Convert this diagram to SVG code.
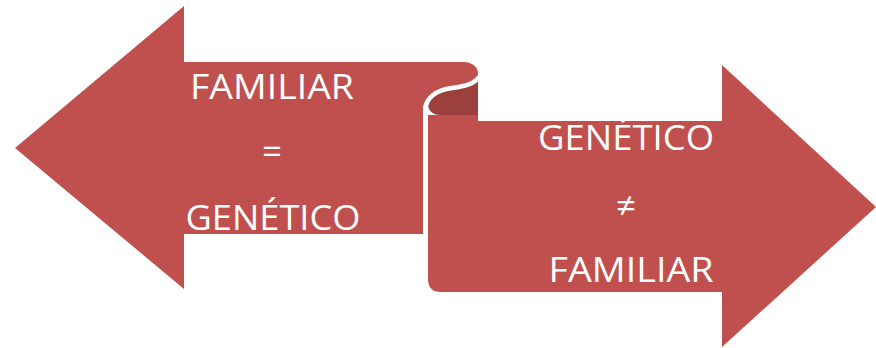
<svg xmlns="http://www.w3.org/2000/svg" width="876" height="348" viewBox="0 0 876 348">
<style>
.shape{fill:#C0504D}
.dark{fill:#9C403E}
.gap{fill:none;stroke:#FFFFFF;stroke-width:4.5}
.t{fill:#FFFFFF;font-family:"Open Sans","Liberation Sans",Arial,sans-serif;font-size:35px;text-anchor:middle}
</style>
<rect width="876" height="348" fill="#FFFFFF"/>
<g id="right-arrow">
<path class="shape" d="M428,115 L478,115 L478,121 L722,121 L722,65 L876,207 L722,347 L722,292 L441,292 Q428,292 428,279 Z"/>
<path class="dark" d="M478,78 L478,115 L440,115 C432,115 428,110 428,104 C428,96 436,90 452,88 Z"/>
<text class="t" x="626" y="150" textLength="176" lengthAdjust="spacingAndGlyphs">GENÉTICO</text>
<text class="t" x="626" y="218">≠</text>
<text class="t" x="631" y="282" textLength="165" lengthAdjust="spacingAndGlyphs">FAMILIAR</text>
</g>
<g id="left-arrow">
<path class="shape" d="M15,148 L184,6 L184,62 L464,62 C472,62 478,67 478,73 C478,79 472,84 462,86 L450,88 C434,90 423,98 423,110 L423,234 L184,234 L184,289 Z"/>
<path class="gap" d="M479,77 C474,84 466,86 452,88 C436,90 425.5,98 425.5,110 L425.5,236"/>
<text class="t" x="272" y="99" textLength="164" lengthAdjust="spacingAndGlyphs">FAMILIAR</text>
<text class="t" x="272" y="164">=</text>
<text class="t" x="273" y="230" textLength="175" lengthAdjust="spacingAndGlyphs">GENÉTICO</text>
</g>
</svg>
